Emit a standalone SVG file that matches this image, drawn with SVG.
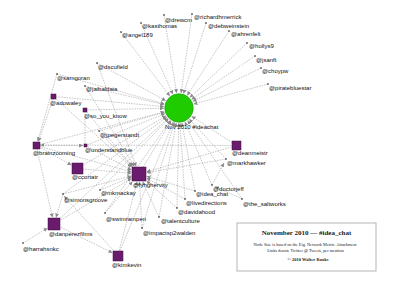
<svg xmlns="http://www.w3.org/2000/svg" width="400" height="293" viewBox="0 0 400 293">
<style>
.e{stroke:#9a9a9a;stroke-width:0.55;stroke-dasharray:1.6,1;fill:none;marker-end:url(#a)}
.n{stroke:#9a9a9a;stroke-width:0.55;stroke-dasharray:1.6,1;fill:none}
.t{font-family:"Liberation Sans",Arial,sans-serif;font-size:6px;fill:#111}
.d{fill:#111}
.s{fill:#6b1b6e;stroke:#3a0c3c;stroke-width:0.5}
.lg{font-family:"Liberation Serif","Times New Roman",serif;fill:#222;text-anchor:middle}
</style>
<defs>
<marker id="a" viewBox="0 0 6 6" refX="6" refY="3" markerWidth="4" markerHeight="4" orient="auto" markerUnits="userSpaceOnUse"><path d="M0,0L6,3L0,6z" fill="#8a8a8a"/></marker>
</defs>
<rect width="400" height="293" fill="#fff"/>
<g id="connectors">
<line class="e" x1="164" y1="15" x2="176.6" y2="93.2"/>
<line class="e" x1="192" y1="14" x2="181.1" y2="93.1"/>
<line class="e" x1="141" y1="23" x2="172.9" y2="94.3"/>
<line class="e" x1="206" y1="23" x2="183.5" y2="93.7"/>
<line class="e" x1="121" y1="32" x2="169.9" y2="96.1"/>
<line class="e" x1="229" y1="31" x2="187.2" y2="95.4"/>
<line class="e" x1="247" y1="43" x2="189.8" y2="97.6"/>
<line class="e" x1="255" y1="56" x2="191.4" y2="99.5"/>
<line class="e" x1="261" y1="68" x2="192.5" y2="101.4"/>
<line class="e" x1="268" y1="84" x2="193.5" y2="104.1"/>
<line class="e" x1="97" y1="63" x2="165.8" y2="100.8"/>
<line class="e" x1="57" y1="74" x2="164.5" y2="104"/>
<line class="e" x1="85" y1="86" x2="164.4" y2="104.6"/>
<line class="e" x1="53.5" y1="96.5" x2="164.1" y2="106.6"/>
<line class="e" x1="85" y1="110" x2="164" y2="108.3"/>
<line class="e" x1="99" y1="131" x2="164.6" y2="112.1"/>
<line class="e" x1="85.5" y1="145.5" x2="165.1" y2="113.6"/>
<line class="e" x1="36.5" y1="145.5" x2="164.5" y2="111.8"/>
<line class="e" x1="77.5" y1="168.5" x2="166.1" y2="115.7"/>
<line class="e" x1="139" y1="174" x2="171.2" y2="120.8"/>
<line class="e" x1="100" y1="190" x2="168.6" y2="118.8"/>
<line class="e" x1="63" y1="194" x2="167" y2="116.9"/>
<line class="e" x1="105" y1="213" x2="170.4" y2="120.3"/>
<line class="e" x1="54" y1="224" x2="168" y2="118.2"/>
<line class="e" x1="118" y1="255.5" x2="173.3" y2="121.9"/>
<line class="e" x1="142" y1="228" x2="174.6" y2="122.3"/>
<line class="e" x1="159" y1="217" x2="176.3" y2="122.8"/>
<line class="e" x1="177" y1="208" x2="178.7" y2="123"/>
<line class="e" x1="185" y1="199" x2="180" y2="123"/>
<line class="e" x1="195" y1="191" x2="181.8" y2="122.7"/>
<line class="e" x1="212" y1="185" x2="184.9" y2="121.8"/>
<line class="e" x1="242" y1="199" x2="187.5" y2="120.3"/>
<line class="e" x1="236.5" y1="145.5" x2="191.6" y2="116.2"/>
<line class="e" x1="226" y1="159" x2="189.2" y2="119"/>
<line class="e" x1="36.5" y1="145.5" x2="131.5" y2="171.9"/>
<line class="e" x1="77.5" y1="168.5" x2="131.5" y2="173.3"/>
<line class="e" x1="54" y1="224" x2="131.5" y2="178.4"/>
<line class="e" x1="63" y1="194" x2="131.5" y2="176"/>
<line class="e" x1="118" y1="255.5" x2="137.1" y2="181.5"/>
<line class="e" x1="100" y1="190" x2="131.5" y2="177.1"/>
<line class="e" x1="105" y1="213" x2="132.5" y2="181.5"/>
<line class="e" x1="142" y1="228" x2="139.4" y2="181.5"/>
<line class="e" x1="159" y1="217" x2="142.5" y2="181.5"/>
<line class="e" x1="177" y1="208" x2="146.5" y2="180.7"/>
<line class="e" x1="185" y1="199" x2="146.5" y2="178.1"/>
<line class="e" x1="195" y1="191" x2="146.5" y2="176.3"/>
<line class="e" x1="236.5" y1="145.5" x2="146.5" y2="171.8"/>
<line class="e" x1="226" y1="159" x2="146.5" y2="172.7"/>
<line class="e" x1="97" y1="63" x2="136.2" y2="166.5"/>
<line class="e" x1="85" y1="86" x2="134.4" y2="166.5"/>
<line class="e" x1="53.5" y1="96.5" x2="131.5" y2="167.2"/>
<line class="e" x1="85" y1="110" x2="132.7" y2="166.5"/>
<line class="e" x1="99" y1="131" x2="132" y2="166.5"/>
<line class="e" x1="85.5" y1="145.5" x2="131.5" y2="170"/>
<line class="e" x1="40" y1="145.5" x2="83" y2="145.5"/>
<line class="n" x1="85" y1="144" x2="85" y2="112"/>
<line class="e" x1="37" y1="149" x2="52.5" y2="217.5"/>
<line class="e" x1="23" y1="243" x2="47.5" y2="228"/>
<line class="e" x1="54" y1="224" x2="112.5" y2="252.8"/>
<line class="e" x1="57" y1="74" x2="37.7" y2="141.5"/>
<line class="e" x1="53" y1="99" x2="38.5" y2="141.5"/>
<line class="e" x1="36.5" y1="145.5" x2="71.5" y2="165.1"/>
<line class="e" x1="63" y1="194" x2="56" y2="217.5"/>
<line class="e" x1="212" y1="185" x2="224" y2="163"/>
<line class="e" x1="242" y1="199" x2="215" y2="186.5"/>
<line class="e" x1="236.5" y1="145.5" x2="40.5" y2="145"/>
<line class="e" x1="118" y1="255.5" x2="64" y2="196"/>
</g>
<g id="center">
<circle cx="179" cy="108" r="14.3" fill="#1fcc00" stroke="#129000" stroke-width="0.5"/>
<text class="t" x="165" y="129">Nov 2010 #ideachat</text>
</g>
<g id="drewcm"><circle class="d" cx="164" cy="15" r="0.8"/><text class="t" x="165" y="22">@drewcm</text></g>
<g id="richardhmerrick"><circle class="d" cx="192" cy="14" r="0.8"/><text class="t" x="194" y="18.5">@richardhmerrick</text></g>
<g id="kasthomas"><circle class="d" cx="141" cy="23" r="0.8"/><text class="t" x="142" y="28">@kasthomas</text></g>
<g id="debweinstein"><circle class="d" cx="206" cy="23" r="0.8"/><text class="t" x="208" y="28">@debweinstein</text></g>
<g id="angel189"><circle class="d" cx="121" cy="32" r="0.8"/><text class="t" x="122" y="37">@angel189</text></g>
<g id="ahrenteit"><circle class="d" cx="229" cy="31" r="0.8"/><text class="t" x="231" y="36">@ahrenfelt</text></g>
<g id="hollys9"><circle class="d" cx="247" cy="43" r="0.8"/><text class="t" x="249" y="48">@hollys9</text></g>
<g id="jsanft"><circle class="d" cx="255" cy="56" r="0.8"/><text class="t" x="256" y="62">@jsanft</text></g>
<g id="choypw"><circle class="d" cx="261" cy="68" r="0.8"/><text class="t" x="262" y="73">@choypw</text></g>
<g id="piratebluestar"><circle class="d" cx="268" cy="84" r="0.8"/><text class="t" x="269" y="90">@piratebluestar</text></g>
<g id="dscufield"><circle class="d" cx="97" cy="63" r="0.8"/><text class="t" x="98" y="69">@dscufield</text></g>
<g id="samgoran"><circle class="d" cx="57" cy="74" r="0.8"/><text class="t" x="57" y="80">@samgoran</text></g>
<g id="jaibaldaia"><circle class="d" cx="85" cy="86" r="0.8"/><text class="t" x="86" y="91">@jaibaldaia</text></g>
<g id="adowaley"><rect class="s" x="51" y="94" width="5" height="5"/><text class="t" x="50" y="105">@adowaley</text></g>
<g id="so_you_know"><rect class="s" x="83" y="108" width="4" height="4"/><text class="t" x="84" y="118">@so_you_know</text></g>
<g id="jpegerstandt"><circle class="d" cx="99" cy="131" r="0.8"/><text class="t" x="100" y="137">@jpegerstandt</text></g>
<g id="understandblue"><rect class="s" x="84" y="144" width="3" height="3"/><text class="t" x="85" y="152">@understandblue</text></g>
<g id="brainzooming"><rect class="s" x="33" y="142" width="7" height="7" stroke="#111" stroke-width="0.8"/><text class="t" x="33" y="155">@brainzooming</text></g>
<g id="ccortatr"><rect class="s" x="72" y="163" width="11" height="11"/><text class="t" x="72" y="179">@ccortatr</text></g>
<g id="lynghervity"><rect class="s" x="132" y="167" width="14" height="14"/><text class="t" x="133" y="187">@lynghervity</text></g>
<g id="mkmackay"><circle class="d" cx="100" cy="190" r="0.8"/><text class="t" x="101" y="195">@mkmackay</text></g>
<g id="simonsgroove"><circle class="d" cx="63" cy="194" r="0.8"/><text class="t" x="64" y="202">@simonsgroove</text></g>
<g id="swimrampen"><circle class="d" cx="105" cy="213" r="0.8"/><text class="t" x="106" y="221">@swimrampen</text></g>
<g id="danperezfilms"><rect class="s" x="48" y="218" width="12" height="12"/><text class="t" x="49" y="236">@danperezfilms</text></g>
<g id="harrahsnkc"><circle class="d" cx="23" cy="243" r="0.8"/><text class="t" x="23" y="251">@harrahsnkc</text></g>
<g id="kimkevin"><rect class="s" x="113" y="251" width="10" height="10"/><text class="t" x="112" y="267">@kimkevin</text></g>
<g id="impactsp2walden"><circle class="d" cx="142" cy="228" r="0.8"/><text class="t" x="143" y="235">@impactsp2walden</text></g>
<g id="talentculture"><circle class="d" cx="159" cy="217" r="0.8"/><text class="t" x="161" y="223">@talentculture</text></g>
<g id="davidahood"><circle class="d" cx="177" cy="208" r="0.8"/><text class="t" x="178" y="214">@davidahood</text></g>
<g id="livedirections"><circle class="d" cx="185" cy="199" r="0.8"/><text class="t" x="186" y="205">@livedirections</text></g>
<g id="idea_chat"><circle class="d" cx="195" cy="191" r="0.8"/><text class="t" x="196" y="196">@idea_chat</text></g>
<g id="doctorjeff"><circle class="d" cx="212" cy="185" r="0.8"/><text class="t" x="213" y="191">@doctorjeff</text></g>
<g id="the_saltworks"><circle class="d" cx="242" cy="199" r="0.8"/><text class="t" x="243" y="206">@the_saltworks</text></g>
<g id="deanmeistr"><rect class="s" x="232" y="141" width="9" height="9"/><text class="t" x="232" y="155">@deanmeistr</text></g>
<g id="markhawker"><circle class="d" cx="226" cy="159" r="0.8"/><text class="t" x="227" y="165">@markhawker</text></g>
<g id="legend">
<rect x="237" y="223" width="139" height="48" fill="#fff" stroke="#b5b5b5" stroke-width="1"/>
<text class="lg" x="306.5" y="235" font-size="7" font-weight="bold">November 2010 — #idea_chat</text>
<text class="lg" x="305" y="245.5" font-size="4.3">Node Size is based on the Eig. Network Metric. Attachment</text>
<text class="lg" x="305.5" y="251.5" font-size="4.3">Links denote Twitter @ Tweets, per mention</text>
<text class="lg" x="308" y="260.5" font-size="4.5" font-weight="bold">© 2010 Walter Rooks</text>
</g>
</svg>
